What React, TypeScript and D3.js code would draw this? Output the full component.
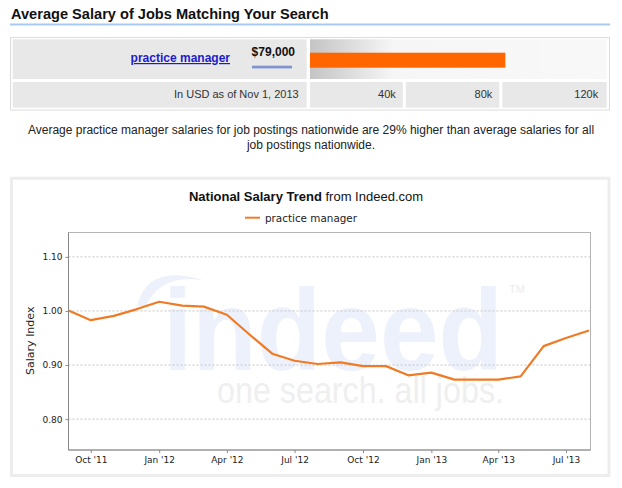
import React, { useEffect, useRef } from "react";
import * as d3 from "d3";

// monthly salary index, practice manager
const months = [
  "2011-09", "2011-10", "2011-11", "2011-12",
  "2012-01", "2012-02", "2012-03", "2012-04", "2012-05", "2012-06",
  "2012-07", "2012-08", "2012-09", "2012-10", "2012-11", "2012-12",
  "2013-01", "2013-02", "2013-03", "2013-04", "2013-05", "2013-06",
  "2013-07", "2013-08",
];
const salaryIndex = [
  1.001, 0.983, 0.991, 1.003,
  1.017, 1.01, 1.008, 0.993, 0.957, 0.921,
  0.908, 0.902, 0.905, 0.898, 0.898, 0.881,
  0.886, 0.873, 0.873, 0.873, 0.879, 0.935,
  0.95, 0.964,
];
const yTicks = [0.8, 0.9, 1.0, 1.1];
const xTickMonths = ["2011-10", "2012-01", "2012-04", "2012-07", "2012-10", "2013-01", "2013-04", "2013-07"];

const seriesName = "practice manager";
const avgSalary = 79000;
const salaryTicks = [40000, 80000, 120000];
const salaryTickLabels = ["40k", "80k", "120k"];

const parseMonth = d3.timeParse("%Y-%m");

const W = 622;
const H = 488;
const plot = { left: 68.5, right: 590.5, top: 232.5, bottom: 450 };

function App() {
  const xAxisRef = useRef<SVGGElement>(null);
  const yAxisRef = useRef<SVGGElement>(null);

  const dates = months.map((m) => parseMonth(m) as Date);
  const points = dates.map((d, i) => ({ date: d, value: salaryIndex[i] }));

  const x = d3
    .scaleTime()
    .domain([dates[0], d3.timeDay.offset(dates[dates.length - 1], 2)])
    .range([plot.left, plot.right]);
  const y = d3.scaleLinear().domain([0.743, 1.145]).range([plot.bottom, plot.top]);

  const line = d3
    .line<{ date: Date; value: number }>()
    .x((d) => x(d.date))
    .y((d) => y(d.value));

  // salary bar at the top
  const barX0 = 310;
  const barX1 = 606.7;
  const salaryScale = d3.scaleLinear().domain([0, 120000]).range([barX0, barX1]);
  const cellEdges = [barX0, 404.3, 500.8, barX1];

  useEffect(() => {
    const xa = d3
      .axisBottom(x)
      .tickValues(xTickMonths.map((m) => parseMonth(m) as Date))
      .tickFormat((d) => d3.timeFormat("%b '%y")(d as Date))
      .tickSize(3)
      .tickPadding(4);
    const gx = d3.select(xAxisRef.current);
    gx.call(xa as any);
    gx.select(".domain").remove();
    gx.selectAll("line").attr("stroke", "#888");
    gx.selectAll("text")
      .attr("fill", "#222")
      .style("font-family", "DejaVu Sans")
      .style("font-size", "9px");

    const ya = d3
      .axisLeft(y)
      .tickValues(yTicks)
      .tickFormat(d3.format(".2f") as any)
      .tickSize(3)
      .tickPadding(3);
    const gy = d3.select(yAxisRef.current);
    gy.call(ya as any);
    gy.select(".domain").remove();
    gy.selectAll("line").attr("stroke", "#888");
    gy.selectAll("text")
      .attr("fill", "#222")
      .style("font-family", "DejaVu Sans")
      .style("font-size", "9px");
  }, []);

  const sans = "'Liberation Sans', Arial, sans-serif";

  return (
    <div style={{ position: "absolute", left: 0, top: 0 }}>
      <svg width={W} height={H} style={{ display: "block", background: "#fff" }}>
        <defs>
          <linearGradient id="barBg" x1="0" x2="1" y1="0" y2="0">
            <stop offset="0" stopColor="#c4c4c4" />
            <stop offset="0.28" stopColor="#f6f6f6" />
            <stop offset="1" stopColor="#f8f8f8" />
          </linearGradient>
          <clipPath id="plotClip">
            <rect x={plot.left} y={plot.top} width={plot.right - plot.left} height={plot.bottom - plot.top} />
          </clipPath>
        </defs>

        {/* header */}
        <text x={11} y={19} fontFamily={sans} fontWeight="bold" fontSize={14.6} fill="#111">
          Average Salary of Jobs Matching Your Search
        </text>
        <line x1={10} x2={610} y1={24.5} y2={24.5} stroke="#a6cbee" strokeWidth={2} />

        {/* salary table */}
        <rect x={10.5} y={37.5} width={599} height={72.5} fill="#fff" stroke="#dcdcdc" />
        <rect x={12.7} y={39.3} width={294} height={39.7} fill="#e8e8e8" />
        <rect x={barX0} y={39.3} width={barX1 - barX0} height={39.7} fill="url(#barBg)" />
        <rect
          x={salaryScale(0)}
          y={52.7}
          width={salaryScale(avgSalary) - salaryScale(0)}
          height={15}
          fill="#ff6600"
        />
        <text x={230} y={62} textAnchor="end" fontFamily={sans} fontWeight="bold" fontSize={12} fill="#1c1ccc" textDecoration="underline">
          {seriesName}
        </text>
        <text x={295} y={56} textAnchor="end" fontFamily={sans} fontWeight="bold" fontSize={12} fill="#111">
          {d3.format("$,")(avgSalary)}
        </text>
        <rect x={252} y={65.7} width={40} height={2.7} fill="#7f93cf" />

        <rect x={12.7} y={82} width={294} height={25.7} fill="#e8e8e8" />
        <text x={298.7} y={97.5} textAnchor="end" fontFamily={sans} fontSize={11} fill="#333">
          In USD as of Nov 1, 2013
        </text>
        {salaryTicks.map((t, i) => (
          <g key={t}>
            <rect x={cellEdges[i] + (i ? 1.5 : 0)} y={82} width={cellEdges[i + 1] - cellEdges[i] - (i < 2 ? 1.5 : 0) - (i ? 1.5 : 0)} height={25.7} fill="#e8e8e8" />
            <text x={cellEdges[i + 1] - 8.5} y={97.5} textAnchor="end" fontFamily={sans} fontSize={11} fill="#333">
              {salaryTickLabels[i]}
            </text>
          </g>
        ))}

        {/* comparison sentence */}
        <text x={311} y={134} textAnchor="middle" fontFamily={sans} fontSize={12} fill="#222">
          Average practice manager salaries for job postings nationwide are 29% higher than average salaries for all
        </text>
        <text x={311} y={149} textAnchor="middle" fontFamily={sans} fontSize={12} fill="#222">
          job postings nationwide.
        </text>

        {/* chart box */}
        <rect x={11.5} y={178.2} width={597.5} height={297.3} fill="#fff" stroke="#ededed" strokeWidth={3} />
        <text x={306} y={200.5} textAnchor="middle" fontFamily={sans} fontSize={13} fill="#111">
          <tspan fontWeight="bold">National Salary Trend</tspan> from Indeed.com
        </text>
        <line x1={245} x2={260} y1={217.7} y2={217.7} stroke="#ef7b26" strokeWidth={2} />
        <text x={265} y={221.5} fontFamily="DejaVu Sans" fontSize={10.4} fill="#222">
          {seriesName}
        </text>

        {/* watermark */}
        <g clipPath="url(#plotClip)">
          <path d="M137,306 Q148,262 206,281 Q162,272 146,306 Z" fill="#edf1fb" />
          <text x={163} y={370} fontFamily={sans} fontWeight="bold" fontSize={115} fill="#edf1fb" textLength={340} lengthAdjust="spacingAndGlyphs">
            indeed
          </text>
          <text x={509} y={293} fontFamily={sans} fontSize={11} fill="#ececec">
            TM
          </text>
          <text x={217} y={403} fontFamily={sans} fontSize={36} fill="#efefef" textLength={287} lengthAdjust="spacingAndGlyphs">
            one search. all jobs.
          </text>
        </g>

        {/* grid */}
        {yTicks.map((t) => (
          <line key={t} x1={plot.left} x2={plot.right} y1={y(t)} y2={y(t)} stroke="#c4c4c4" strokeDasharray="2,2" />
        ))}

        {/* frame */}
        <rect x={plot.left} y={plot.top} width={plot.right - plot.left} height={plot.bottom - plot.top} fill="none" stroke="#b4b4b4" />
        <line x1={plot.left} x2={plot.left} y1={plot.top} y2={plot.bottom} stroke="#888" />
        <line x1={plot.left} x2={plot.right} y1={plot.bottom} y2={plot.bottom} stroke="#888" />

        <g ref={xAxisRef} transform={`translate(0,${plot.bottom})`} />
        <g ref={yAxisRef} transform={`translate(${plot.left},0)`} />

        <text
          transform={`translate(34,${(plot.top + plot.bottom) / 2 - 0.5}) rotate(-90)`}
          textAnchor="middle"
          fontFamily="DejaVu Sans"
          fontSize={11}
          fill="#222"
        >
          Salary Index
        </text>

        <path d={line(points) ?? ""} fill="none" stroke="#ef7b26" strokeWidth={2.2} strokeLinejoin="round" clipPath="url(#plotClip)" />
      </svg>
    </div>
  );
}

export default App;
